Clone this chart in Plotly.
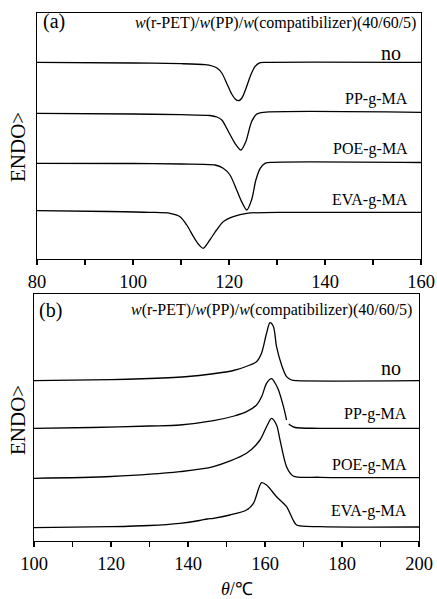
import plotly.graph_objects as go

# ---------------- data (arbitrary heat-flow units) ----------------
series_names = ["no", "PP-g-MA", "POE-g-MA", "EVA-g-MA"]
title_text = "<i>w</i>(r-PET)/<i>w</i>(PP)/<i>w</i>(compatibilizer)(40/60/5)"

# Panel (a): crystallization (x 80-160)
a_no_T = [80, 100, 110, 115, 116.5, 117.5, 118.5, 119.5, 120.5, 121.3, 122, 122.7, 123.5, 124.4, 125.4, 126.5, 128, 160]
a_no_y = [196.7, 196, 195.3, 194.3, 193, 191, 186, 176, 165.5, 160, 158.3, 161, 170, 182.3, 192.3, 196.3, 196.7, 196.7]

a_pp_T = [80, 100, 110, 116, 117.5, 118.5, 119.9, 121.25, 122.5, 123.5, 124.7, 125.8, 127.2, 160]
a_pp_y = [145.7, 145, 144.3, 143.5, 142, 139, 127.3, 115.7, 109, 117.3, 137.3, 145, 146.7, 146.7]

a_poe_T = [80, 100, 110, 117.1, 118.8, 120.2, 121.6, 122.8, 123.7, 124.7, 125.6, 126.5, 127.5, 129.2, 160]
a_poe_y = [95.7, 95.5, 95, 94, 90.7, 84, 69, 55.7, 49, 59, 79, 90.7, 95.7, 96.7, 96.5]

a_eva_T = [80, 95, 103.5, 107.7, 109.8, 111.2, 112.6, 113.6, 114.6, 116, 117.4, 118.8, 120.9, 123.7, 132.7, 160]
a_eva_y = [48.3, 47.5, 46.7, 45.7, 42.3, 34, 22.3, 15, 10.7, 19, 29, 37.3, 42.3, 45.7, 46.7, 46.7]

# Panel (b): melting (x 100-200)
b_no_T = [100, 120, 130, 140, 146, 151.8, 156.1, 157.8, 159.1, 160.4, 161.3, 162.2, 163.0, 164.3, 165.6, 166.9, 168.2, 200]
b_no_y = [160.3, 161.3, 162.5, 164.5, 167, 170.5, 176, 179.3, 187.7, 207.7, 218.3, 214.3, 194.3, 176, 164.3, 161, 160.3, 160.3]

b_pp_T = [100, 115, 130, 137.9, 146.6, 152, 155.2, 157.8, 159.2, 160.4, 161.7, 162.6, 163.5, 164.8, 165.6, None, 166.2, 166.5, 167.8, 174.3, 200]
b_pp_y = [112.7, 113.5, 115, 116, 120.3, 125, 129.3, 136, 145, 157.7, 162.3, 158, 151, 134.3, 121, None, 117, 116, 113.5, 112.7, 112.7]

b_poe_T = [100, 120, 137.9, 146.6, 155.2, 158.7, 160.4, 161.7, 163.0, 163.9, 165.6, 167.3, 174.3, 200]
b_poe_y = [62.7, 64.5, 69.3, 74.3, 87.7, 101, 114.3, 122.7, 116, 101, 74.3, 65, 63.7, 63.3]

b_eva_T = [100, 120, 130, 137.9, 143, 145, 146.6, 150.9, 155.2, 157.0, 159.1, 160.4, 163.0, 165.6, 167.3, 168.2, 174.3, 200]
b_eva_y = [13.3, 14.3, 15.5, 17.7, 20.5, 22, 22.7, 26, 31, 37.7, 58.3, 56, 44.3, 34.3, 21, 16, 14.3, 14]

a_ticks = [80, 90, 100, 110, 120, 130, 140, 150, 160]
a_ticklabels = ["80", "", "100", "", "120", "", "140", "", "160"]
b_ticks = [100, 110, 120, 130, 140, 150, 160, 170, 180, 190, 200]
b_ticklabels = ["100", "", "120", "", "140", "", "160", "", "180", "", "200"]

# ---------------- figure ----------------
W, H = 437, 599
FONT = "Liberation Serif"

fig = go.Figure()

def add_curve(T, y, xa, ya):
    fig.add_trace(go.Scatter(x=T, y=y, mode="lines", xaxis=xa, yaxis=ya,
                             line=dict(color="black", width=1.3, shape="spline", smoothing=0.8),
                             connectgaps=False, showlegend=False, hoverinfo="skip"))

for T, y in [(a_no_T, a_no_y), (a_pp_T, a_pp_y), (a_poe_T, a_poe_y), (a_eva_T, a_eva_y)]:
    add_curve(T, y, "x", "y")
for T, y in [(b_no_T, b_no_y), (b_pp_T, b_pp_y), (b_poe_T, b_poe_y), (b_eva_T, b_eva_y)]:
    add_curve(T, y, "x2", "y2")

def px_x(p):
    return p / W

def px_y(p):
    return 1 - p / H

axis_common = dict(showgrid=False, zeroline=False, showline=True, linecolor="black",
                   linewidth=1.3, mirror=True, ticks="outside", ticklen=5, tickwidth=1.2,
                   tickcolor="black", automargin=False,
                   tickfont=dict(family=FONT, size=18.5, color="black"))
yaxis_common = dict(showgrid=False, zeroline=False, showline=True, linecolor="black", linewidth=1.3,
                    mirror=True, showticklabels=False, ticks="", automargin=False)

fig.update_layout(
    width=W, height=H, autosize=False,
    margin=dict(l=0, r=0, t=0, b=0, pad=0),
    paper_bgcolor="white", plot_bgcolor="white",
    font=dict(family=FONT, color="black"),
    xaxis=dict(domain=[px_x(37), px_x(421)], range=[80, 160], anchor="y",
               tickmode="array", tickvals=a_ticks, ticktext=a_ticklabels, **axis_common),
    yaxis=dict(domain=[px_y(259), px_y(13)], range=[0, 246], anchor="x", **yaxis_common),
    xaxis2=dict(domain=[px_x(34), px_x(419)], range=[100, 200], anchor="y2",
                tickmode="array", tickvals=b_ticks, ticktext=b_ticklabels, **axis_common),
    yaxis2=dict(domain=[px_y(541), px_y(294)], range=[0, 247], anchor="x2", **yaxis_common),
)

def ann(text, x, y, size, xanchor="center", angle=0):
    fig.add_annotation(text=text, x=px_x(x), y=px_y(y), xref="paper", yref="paper",
                       xanchor=xanchor, yanchor="middle", showarrow=False, textangle=angle,
                       font=dict(family=FONT, size=size, color="black"))

# Panel (a) texts
ann("(a)", 41, 22, 20, "left")
ann(title_text, 418, 23, 16, "right")
ann("no", 403, 53, 20, "right")
ann("PP-g-MA", 410, 99, 16, "right")
ann("POE-g-MA", 410, 149, 16, "right")
ann("EVA-g-MA", 410, 200, 16, "right")
ann("ENDO>", 18, 147, 21, "center", -90)

# Panel (b) texts
ann("(b)", 37, 310, 20, "left")
ann(title_text, 414, 310, 16, "right")
ann("no", 403, 368, 20, "right")
ann("PP-g-MA", 409, 414, 16, "right")
ann("POE-g-MA", 409, 465, 16, "right")
ann("EVA-g-MA", 409, 511, 16, "right")
ann("ENDO>", 18, 420, 21, "center", -90)

ann("<i>θ</i>/℃", 237, 589, 18, "center")

fig.write_html("out.html", config={"displayModeBar": False, "staticPlot": True},
               post_script="document.body.style.margin='0';document.body.style.padding='0';"
                           "document.body.style.overflow='hidden';")
